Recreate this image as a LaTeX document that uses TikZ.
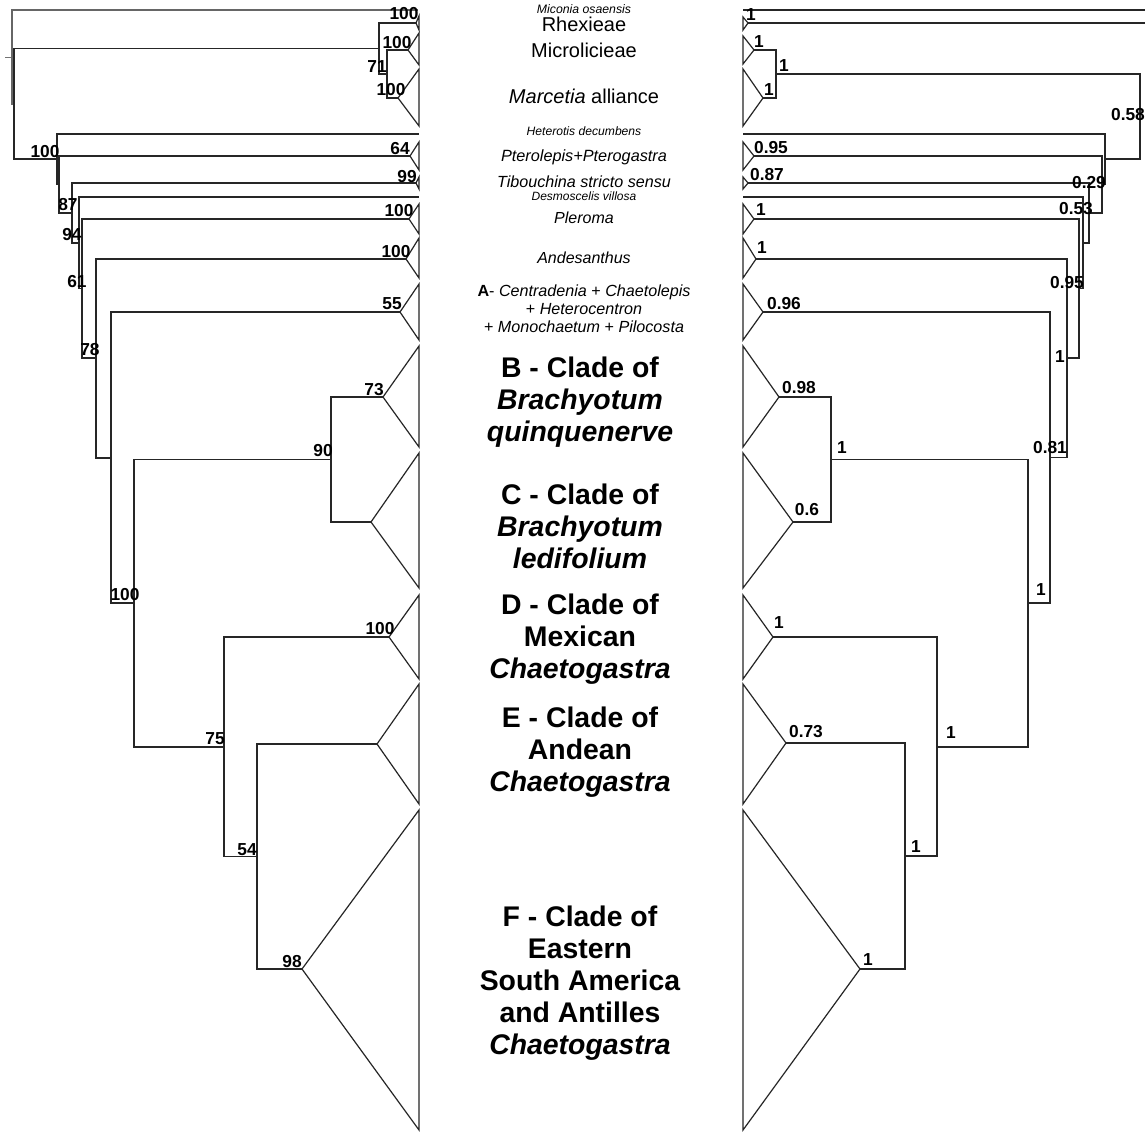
\documentclass[tikz,border=0pt]{standalone}
\usepackage{fontspec}
\setmainfont{Liberation Sans}
\newcommand\cladeL[5]{\coordinate (#1) at (#2,#3); \draw[tree] (#1) -- (419,#4) -- (419,#5) -- cycle;}
\newcommand\cladeR[5]{\coordinate (#1) at (#2,#3); \draw[tree] (#1) -- (743,#4) -- (743,#5) -- cycle;}
\begin{document}
\begin{tikzpicture}[x=0.75pt,y=-0.75pt,
  tree/.style={line width=0.9pt, draw=black!85},
  lab/.style={font=\fontsize{13}{13}\selectfont\bfseries, inner sep=0pt},
  small/.style={font=\fontsize{9.2}{10}\selectfont\itshape, inner sep=0pt},
  mid/.style={font=\fontsize{15}{16}\selectfont, inner sep=0pt},
  gen/.style={font=\fontsize{12.1}{13.5}\selectfont, inner sep=0pt, align=center},
  big/.style={font=\fontsize{21.3}{24}\selectfont\bfseries, inner sep=0pt, align=center}]
\useasboundingbox (0,0) rectangle (1145,1132);
\fill[white] (0,0) rectangle (1145,1132);

% ---------------- left tree ----------------
\coordinate (r0) at (12,57);
\coordinate (stubL) at (5,57);
\coordinate (micoL) at (418,10);
\coordinate (n1) at (14,104);
\coordinate (ntop) at (379,48.5);
\coordinate (nmm) at (387,74);
\coordinate (n2) at (57,159);
\coordinate (hetL) at (419,134);
\coordinate (n3) at (59,184.5);
\coordinate (n4) at (72,213);
\coordinate (n5) at (79,243);
\coordinate (desL) at (419,197);
\coordinate (n6) at (82,288.5);
\coordinate (n7) at (96,358);
\coordinate (n8) at (111,458);
\coordinate (n9) at (134,603);
\coordinate (nbc) at (331,459.5);
\coordinate (ndef) at (224,747);
\coordinate (nef) at (257,856.5);

\cladeL{rhexL}{416}{23}{16}{30}
\cladeL{micL}{408}{50}{33}{65}
\cladeL{marL}{398}{98}{69}{126}
\cladeL{pteL}{410}{156}{142}{170}
\cladeL{tibL}{416}{183}{177}{189}
\cladeL{pleL}{409}{219}{204}{234}
\cladeL{andL}{406}{259}{238}{278}
\cladeL{aL}{400}{312}{284}{340}
\cladeL{bL}{383}{397}{346}{447}
\cladeL{cL}{371}{522}{453}{588}
\cladeL{dL}{389}{637}{595}{679}
\cladeL{eL}{377}{744}{684}{804}
\cladeL{fL}{302}{969}{810}{1130}

\draw[tree, draw=black!55, line width=0.6pt] (stubL) -- (r0);
\draw[tree, draw=black!60] (r0) |- (micoL);
\draw[tree, draw=black!60] (r0) |- (n1);
\draw[tree] (n1) |- (ntop);
\draw[tree] (n1) |- (n2);
\draw[tree] (ntop) |- (rhexL);
\draw[tree] (ntop) |- (nmm);
\draw[tree] (nmm) |- (micL);
\draw[tree] (nmm) |- (marL);
\draw[tree] (n2) |- (hetL);
\draw[tree] (n2) |- (n3);
\draw[tree] (n3) |- (pteL);
\draw[tree] (n3) |- (n4);
\draw[tree] (n4) |- (tibL);
\draw[tree] (n4) |- (n5);
\draw[tree] (n5) |- (desL);
\draw[tree] (n5) |- (n6);
\draw[tree] (n6) |- (pleL);
\draw[tree] (n6) |- (n7);
\draw[tree] (n7) |- (andL);
\draw[tree] (n7) |- (n8);
\draw[tree] (n8) |- (aL);
\draw[tree] (n8) |- (n9);
\draw[tree] (n9) |- (nbc);
\draw[tree] (n9) |- (ndef);
\draw[tree] (nbc) |- (bL);
\draw[tree] (nbc) |- (cL);
\draw[tree] (ndef) |- (dL);
\draw[tree] (ndef) |- (nef);
\draw[tree] (nef) |- (eL);
\draw[tree] (nef) |- (fL);

\node[lab] (lrh) at (404,14) {100};
\node[lab] (lmi) at (397,43) {100};
\node[lab] (lmm) at (377,67) {71};
\node[lab] (lma) at (391,90) {100};
\node[lab] (ln2) at (45,152) {100};
\node[lab] (lpt) at (400,149) {64};
\node[lab] (lti) at (407,177) {99};
\node[lab] (ln4) at (68,205) {87};
\node[lab] (lpl) at (399,211) {100};
\node[lab] (ln5) at (72,235) {94};
\node[lab] (lan) at (396,252) {100};
\node[lab] (ln6) at (77,282) {61};
\node[lab] (la) at (392,304) {55};
\node[lab] (ln7) at (90,350) {78};
\node[lab] (lb) at (374,390) {73};
\node[lab] (lbc) at (323,451) {90};
\node[lab] (ln9) at (125,595) {100};
\node[lab] (ld) at (380,629) {100};
\node[lab] (ldef) at (215,739) {75};
\node[lab] (lef) at (247,850) {54};
\node[lab] (lf) at (292,962) {98};

% ---------------- right tree ----------------
\coordinate (micoR) at (743,10);
\coordinate (edgeA) at (1146,10);
\coordinate (edgeB) at (1146,23);
\coordinate (nR58) at (1140,116.5);
\coordinate (nmmR) at (776,74);
\coordinate (n2R) at (1105,159);
\coordinate (hetR) at (743,134);
\coordinate (n3R) at (1102,184.5);
\coordinate (n4R) at (1089,213);
\coordinate (n5R) at (1083,243);
\coordinate (desR) at (743,197);
\coordinate (n6R) at (1079,288.5);
\coordinate (n7R) at (1067,358);
\coordinate (n8R) at (1050,457.5);
\coordinate (n9R) at (1028,603);
\coordinate (nbcR) at (831,459.5);
\coordinate (ndefR) at (937,747);
\coordinate (nefR) at (905,856);

\cladeR{rhexR}{748}{23}{17}{30}
\cladeR{micR}{754}{50}{36}{64}
\cladeR{marR}{763}{98}{69}{126}
\cladeR{pteR}{754}{156}{142}{170}
\cladeR{tibR}{748}{183}{177}{189}
\cladeR{pleR}{754}{219}{204}{234}
\cladeR{andR}{756}{259}{238}{278}
\cladeR{aR}{763}{312}{284}{340}
\cladeR{bR}{779}{397}{346}{447}
\cladeR{cR}{793}{522}{453}{588}
\cladeR{dR}{773}{637}{595}{679}
\cladeR{eR}{786}{743}{684}{804}
\cladeR{fR}{860}{969}{810}{1130}

\draw[tree] (micoR) -- (edgeA);
\draw[tree] (rhexR) -- (edgeB);
\draw[tree] (nR58) |- (nmmR);
\draw[tree] (nR58) |- (n2R);
\draw[tree] (nmmR) |- (micR);
\draw[tree] (nmmR) |- (marR);
\draw[tree] (n2R) |- (hetR);
\draw[tree] (n2R) |- (n3R);
\draw[tree] (n3R) |- (pteR);
\draw[tree] (n3R) |- (n4R);
\draw[tree] (n4R) |- (tibR);
\draw[tree] (n4R) |- (n5R);
\draw[tree] (n5R) |- (desR);
\draw[tree] (n5R) |- (n6R);
\draw[tree] (n6R) |- (pleR);
\draw[tree] (n6R) |- (n7R);
\draw[tree] (n7R) |- (andR);
\draw[tree] (n7R) |- (n8R);
\draw[tree] (n8R) |- (aR);
\draw[tree] (n8R) |- (n9R);
\draw[tree] (n9R) |- (nbcR);
\draw[tree] (n9R) |- (ndefR);
\draw[tree] (nbcR) |- (bR);
\draw[tree] (nbcR) |- (cR);
\draw[tree] (ndefR) |- (dR);
\draw[tree] (ndefR) |- (nefR);
\draw[tree] (nefR) |- (eR);
\draw[tree] (nefR) |- (fR);

\node[lab] (rrh) at (751,15) {1};
\node[lab] (rmi) at (759,42) {1};
\node[lab] (rmm) at (784,66) {1};
\node[lab] (rma) at (769,90) {1};
\node[lab] (r58) at (1128,115) {0.58};
\node[lab] (rpt) at (771,148) {0.95};
\node[lab] (rti) at (767,175) {0.87};
\node[lab] (r29) at (1089,183) {0.29};
\node[lab] (rpl) at (761,210) {1};
\node[lab] (r53) at (1076,209) {0.53};
\node[lab] (ran) at (762,248) {1};
\node[lab] (r95) at (1067,283) {0.95};
\node[lab] (ra) at (784,304) {0.96};
\node[lab] (rn7) at (1060,357) {1};
\node[lab] (rb) at (799,388) {0.98};
\node[lab] (rbc) at (842,448) {1};
\node[lab] (r81) at (1050,448) {0.81};
\node[lab] (rc) at (807,510) {0.6};
\node[lab] (rn9) at (1041,590) {1};
\node[lab] (rd) at (779,623) {1};
\node[lab] (rdef) at (951,733) {1};
\node[lab] (re) at (806,732) {0.73};
\node[lab] (ref) at (916,847) {1};
\node[lab] (rf) at (868,960) {1};

% ---------------- centre names ----------------
\node[small] (tmic) at (584,9) {Miconia osaensis};
\node[mid] (trh) at (584,24) {Rhexieae};
\node[mid] (tmi) at (584,50) {Microlicieae};
\node[mid] (tma) at (584,96) {\textit{Marcetia} alliance};
\node[small, font=\fontsize{9.1}{10}\selectfont\itshape] (the) at (584,131) {Heterotis decumbens};
\node[gen, font=\fontsize{12.2}{13.5}\selectfont\itshape] (tpt) at (584,157) {Pterolepis+Pterogastra};
\node[gen, font=\fontsize{12.1}{13.5}\selectfont\itshape] (tti) at (584,182) {Tibouchina stricto sensu};
\node[small, font=\fontsize{9}{10}\selectfont\itshape] (tde) at (584,196) {Desmoscelis villosa};
\node[gen, font=\fontsize{12}{13.5}\selectfont\itshape] (tpl) at (584,218) {Pleroma};
\node[gen, font=\fontsize{12}{13.5}\selectfont\itshape] (tan) at (584,258) {Andesanthus};
\node[gen] (ta) at (584,309) {\textbf{A}- \textit{Centradenia} + \textit{Chaetolepis}\\+ \textit{Heterocentron}\\+ \textit{Monochaetum} + \textit{Pilocosta}};
\node[big] (tb) at (580,402) {B - Clade of\\\textit{Brachyotum}\\\textit{quinquenerve}};
\node[big] (tc) at (580,526) {C - Clade of\\\textit{Brachyotum}\\\textit{ledifolium}};
\node[big] (td) at (580,639) {D - Clade of\\Mexican\\\textit{Chaetogastra}};
\node[big] (te) at (580,752) {E - Clade of\\Andean\\\textit{Chaetogastra}};
\node[big] (tf) at (580,983) {F - Clade of\\Eastern\\South America\\and Antilles\\\textit{Chaetogastra}};
\end{tikzpicture}
\end{document}
